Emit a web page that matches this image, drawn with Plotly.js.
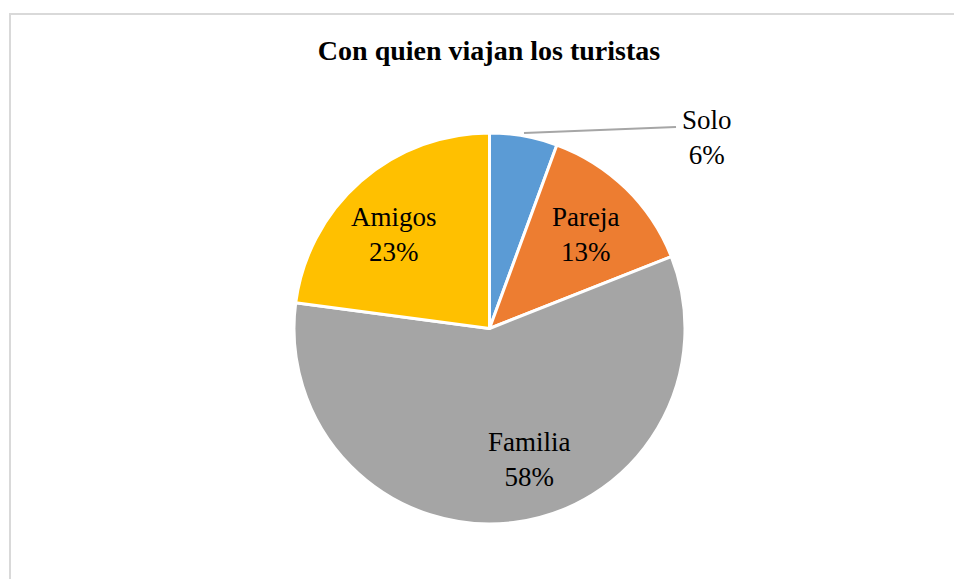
<!DOCTYPE html>
<html>
<head>
<meta charset="utf-8">
<script src="https://cdn.plot.ly/plotly-3.0.1.min.js"></script>
<style>
  html, body { margin: 0; padding: 0; background: #fff; }
  #wrap { position: relative; width: 954px; height: 579px; overflow: hidden; }
  #chart { width: 954px; height: 579px; }
  #frame { position: absolute; left: 9px; top: 13px; width: 2000px; height: 2000px;
           border-left: 2px solid #d9d9d9; border-top: 2px solid #d9d9d9; pointer-events: none; }
</style>
</head>
<body>
<div id="wrap">
  <div id="chart"></div>
  <div id="frame"></div>
</div>
<script>
const titleText = "Con quien viajan los turistas";
const categories = ["Solo", "Pareja", "Familia", "Amigos"];
const values = [5.6, 13.4, 58.1, 22.9];
const colors = ["#5B9BD5", "#ED7D31", "#A5A5A5", "#FFC000"];

const W = 954, H = 579;
const SERIF = "'Liberation Serif', 'Times New Roman', serif";
const total = values.reduce((a, b) => a + b, 0);
const pct = values.map(v => Math.round(v / total * 100) + "%");

// label anchor positions (pixels) for each category's data label
const labelPos = [[707, 137], [585, 234], [394, 234], [529, 459]];
const labelOrder = [0, 1, 3, 2];

const trace = {
  type: "pie",
  labels: categories,
  values: values,
  sort: false,
  direction: "clockwise",
  rotation: 0,
  marker: { colors: colors, line: { color: "#ffffff", width: 3 } },
  textinfo: "none",
  hoverinfo: "label+percent",
  domain: { x: [0.2, 0.8262], y: [55 / H, 1 - 133 / H] },
  showlegend: false
};

const annotations = labelOrder.map((ci, k) => ({
  xref: "paper", yref: "paper",
  x: labelPos[k][0] / W, y: 1 - labelPos[k][1] / H,
  xanchor: "center", yanchor: "middle",
  text: categories[ci] + "<br>" + pct[ci],
  showarrow: false,
  font: { family: SERIF, size: 27, color: "#000000" }
}));

const layout = {
  width: W,
  height: H,
  margin: { l: 0, r: 0, t: 0, b: 0 },
  paper_bgcolor: "#ffffff",
  font: { family: SERIF },
  title: {
    text: "<b>" + titleText + "</b>",
    font: { family: SERIF, size: 28, color: "#000000" },
    x: 489 / W, xanchor: "center",
    y: 1 - 50 / H, yref: "container", yanchor: "middle"
  },
  shapes: [{
    type: "line", xref: "paper", yref: "paper",
    x0: 524 / W, y0: 1 - 133 / H, x1: 676 / W, y1: 1 - 127 / H,
    line: { color: "#a6a6a6", width: 2 }
  }],
  annotations: annotations
};

Plotly.newPlot("chart", [trace], layout, { displayModeBar: false, staticPlot: true });
</script>
</body>
</html>
